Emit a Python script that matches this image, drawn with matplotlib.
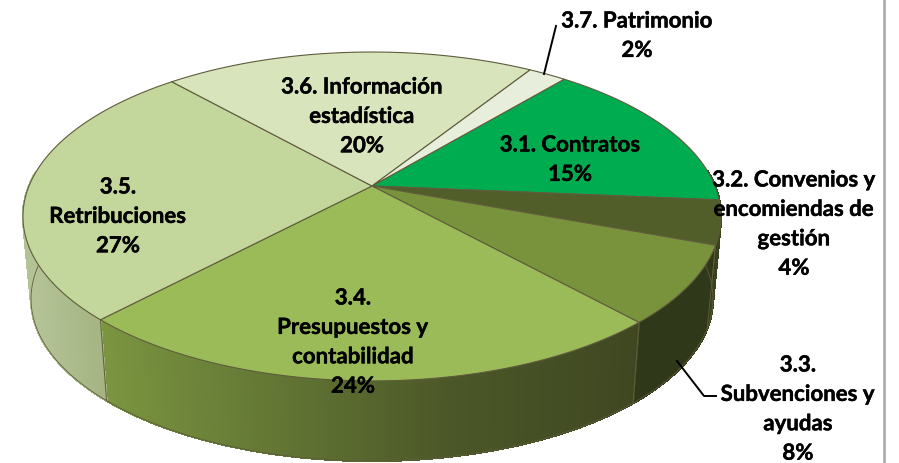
#!/usr/bin/env python

import numpy as np
import matplotlib
matplotlib.use('Agg')
import matplotlib.pyplot as plt
import matplotlib.patheffects as pe

### === Data ===
values = [15.3, 4.3, 7.6, 23.7, 26.4, 20.5, 2.1]
names = ['3.1. Contratos', '3.2. Convenios y\nencomiendas de\ngestión', '3.3.\nSubvenciones y\nayudas',
         '3.4.\nPresupuestos y\ncontabilidad', '3.5.\nRetribuciones', '3.6. Información\nestadística', '3.7. Patrimonio']
percents = ['15%', '4%', '8%', '24%', '27%', '20%', '2%']

top_colors = ['#00AC50', '#515E29', '#79933C', '#9BBB59', '#C3D69B', '#D8E4BC', '#E8EEDC']
# wall colour stops, interpolated along x (pixels)
wall_x = [30, 100, 105, 450, 640, 720]
wall_colors = {
    0: [(40, 80, 50)] * 6,
    1: [(58, 67, 32)] * 6,
    2: [(47, 56, 24)] * 6,
    3: [(122, 148, 64), (122, 148, 64), (122, 148, 64), (75, 87, 40), (63, 71, 33), (63, 71, 33)],
    4: [(180, 195, 150), (165, 180, 130), (165, 180, 130), (165, 180, 130), (165, 180, 130), (165, 180, 130)],
    5: [(180, 190, 150)] * 6,
    6: [(180, 190, 150)] * 6,
}

label_pos = [(570, 146), (794, 181), (798, 366), (353, 299), (118, 188), (362, 88), (637, 22)]

### === Geometry of the tilted disc, in pixels ===
start_angle = 50.2
cx, cy = 372.0, 187.0
rx, ry, persp = 343.0, 158.8, 0.1853
bot_rx, bot_cy, bot_ry, bot_persp = 331.0, 261.0, 152.7, 0.24
edge = '#5f5c3c'


def rim(theta):
    u, v = np.cos(theta), np.sin(theta)
    w = 1 + persp * v
    return cx + rx * u / w, cy - ry * v / w


def bottom_rim(theta):
    # lower rim pulled a little towards the front so the wall edges lean inward
    d = (theta + np.pi / 2 + np.pi) % (2 * np.pi) - np.pi
    t2 = -np.pi / 2 + 0.95 * d
    u, v = np.cos(t2), np.sin(t2)
    w = 1 + bot_persp * v
    return cx + bot_rx * u / w, bot_cy - bot_ry * v / w


def wall_color(i, x):
    stops = np.array(wall_colors[i]) / 255.0
    return [np.interp(x, wall_x, stops[:, k]) for k in range(3)]


fig = plt.figure(figsize=(8.99, 4.64), dpi=100)
ax = fig.add_axes([0, 0, 1, 1])
ax.set_xlim(0, 899)
ax.set_ylim(464, 0)
ax.axis('off')

fracs = np.array(values) / np.sum(values)
bounds = np.radians(start_angle - 360 * np.concatenate([[0], np.cumsum(fracs)]))

### === Walls first, the top covers the hidden part ===
for i in range(len(values)):
    th = np.linspace(bounds[i], bounds[i + 1], 160)
    th = th[np.sin(th) < 0.1]
    for a, b in zip(th[:-1], th[1:]):
        xt1, yt1 = rim(a)
        xt2, yt2 = rim(b)
        xb1, yb1 = bottom_rim(a)
        xb2, yb2 = bottom_rim(b)
        col = wall_color(i, (xt1 + xt2) / 2)
        ax.fill([xt1, xt2, xb2, xb1], [yt1, yt2, yb2, yb1], color=col, lw=1.0, antialiased=False, zorder=1)
    if len(th) > 1:
        xb, yb = bottom_rim(th)
        ax.plot(xb, yb, color=edge, lw=0.6, zorder=2)
        if np.sin(bounds[i + 1]) < 0:
            xt, yt = rim(bounds[i + 1])
            xb, yb = bottom_rim(bounds[i + 1])
            ax.plot([xt, xb], [yt, yb], color=edge, lw=0.7, zorder=2)

### === Top slices ===
for i in range(len(values)):
    th = np.linspace(bounds[i], bounds[i + 1], 200)
    x, y = rim(th)
    ax.fill(np.r_[cx, x], np.r_[cy, y], facecolor=top_colors[i], edgecolor=edge, lw=0.8,
            joinstyle='round', zorder=3)

### === Leader lines and the frame on the right ===
ax.plot([544, 556], [75, 27], color='black', lw=1.4, zorder=4)
ax.plot([677, 704, 716], [362, 397, 397], color='black', lw=1.4, zorder=4)
ax.plot([884, 884], [0, 463], color='#a6a6a6', lw=1.8, zorder=4)

### === Labels ===
line_step = 29.4
for name, pct, (lx, ly) in zip(names, percents, label_pos):
    for j, line in enumerate(name.split('\n') + [pct]):
        ax.text(lx, ly + j * line_step, line, ha='center', va='center', family='Lato',
                fontweight='bold', fontsize=16, color='black', zorder=5,
                path_effects=[pe.withStroke(linewidth=0.3, foreground='black')])

plt.savefig('out.png', dpi=100)
